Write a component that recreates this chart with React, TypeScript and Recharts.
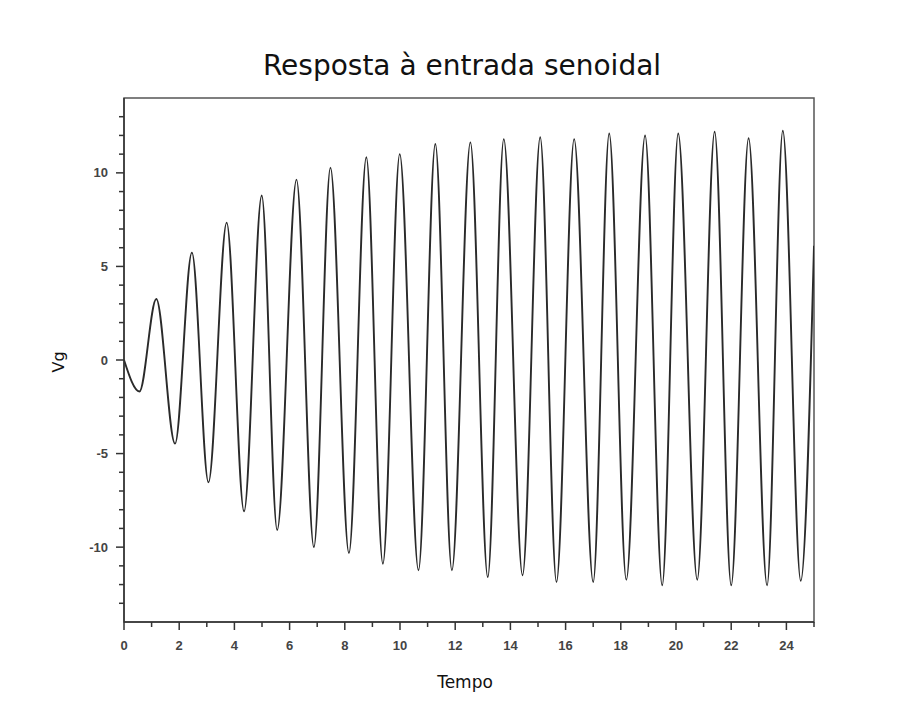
import React from 'react';
import { LineChart, Line, XAxis, YAxis, ReferenceArea } from 'recharts';

// Time instants (extremes) and Vg values
const tempo = [
  0, 0.56, 1.17, 1.85, 2.46, 3.06, 3.72, 4.35, 4.99, 5.55, 6.25, 6.88, 7.48, 8.15,
  8.78, 9.38, 9.99, 10.67, 11.28, 11.88, 12.55, 13.18, 13.76, 14.44, 15.08, 15.67,
  16.31, 17.0, 17.58, 18.2, 18.88, 19.5, 20.08, 20.77, 21.4, 22.0, 22.63, 23.3,
  23.87, 24.52, 25,
];
const vg = [
  0, -1.68, 3.26, -4.47, 5.74, -6.54, 7.34, -8.09, 8.79, -9.08, 9.64, -10.0, 10.27,
  -10.32, 10.83, -10.89, 11.0, -11.24, 11.54, -11.24, 11.63, -11.6, 11.8, -11.5, 11.9,
  -11.86, 11.8, -11.86, 12.1, -11.74, 12.0, -12.04, 12.1, -11.74, 12.2, -12.04, 11.85,
  -12.04, 12.25, -11.8, 6.1,
];

const xTicks = [0, 1, 2, 3, 4, 5, 6, 7, 8, 9, 10, 11, 12, 13, 14, 15, 16, 17, 18, 19, 20, 21, 22, 23, 24, 25];
const yTicks = [-13, -12, -11, -10, -9, -8, -7, -6, -5, -4, -3, -2, -1, 0, 1, 2, 3, 4, 5, 6, 7, 8, 9, 10, 11, 12, 13];

const title = 'Resposta à entrada senoidal';
const xLabel = 'Tempo';
const yLabel = 'Vg';

const data = tempo.map((t, i) => ({ t, v: vg[i] }));

const tickFont = '"Liberation Sans", Arial, sans-serif';
const textFont = '"DejaVu Sans", sans-serif';

const XTick = (props: any) => {
  const { x, y, payload } = props;
  const val = payload.value as number;
  const major = val % 2 === 0 && val < 25;
  return (
    <g>
      <line x1={x} y1={y} x2={x} y2={y + (major ? 8 : 5)} stroke="#333" strokeWidth={1.5} />
      {major && (
        <text x={x} y={y + 28} textAnchor="middle" fontFamily={tickFont} fontSize={13} fontWeight="bold" fill="#444">
          {val}
        </text>
      )}
    </g>
  );
};

const YTick = (props: any) => {
  const { x, y, payload } = props;
  const val = payload.value as number;
  const major = val % 5 === 0;
  return (
    <g>
      <line x1={x - (major ? 8 : 5)} y1={y} x2={x} y2={y} stroke="#333" strokeWidth={1.5} />
      {major && (
        <text x={x - 16} y={y + 4.5} textAnchor="end" fontFamily={tickFont} fontSize={13} fontWeight="bold" fill="#444">
          {val}
        </text>
      )}
    </g>
  );
};

export default function App() {
  return (
    <div style={{ position: 'absolute', left: 0, top: 0, width: 917, height: 705, background: '#fff' }}>
      <LineChart width={917} height={705} data={data} margin={{ top: 98, right: 103, bottom: 0, left: 0 }}>
        <XAxis
          dataKey="t"
          type="number"
          domain={[0, 25]}
          ticks={xTicks}
          interval={0}
          allowDataOverflow
          height={83}
          tickSize={0}
          tickMargin={0}
          tickLine={false}
          tick={(p: any) => <XTick {...p} />}
          axisLine={{ stroke: '#333', strokeWidth: 1.5 }}
        />
        <YAxis
          type="number"
          domain={[-14, 14]}
          ticks={yTicks}
          interval={0}
          allowDataOverflow
          width={124}
          tickSize={0}
          tickMargin={0}
          tickLine={false}
          tick={(p: any) => <YTick {...p} />}
          axisLine={{ stroke: '#333', strokeWidth: 1.5 }}
        />
        <ReferenceArea x1={0} x2={25} y1={-14} y2={14} fill="none" stroke="#555" strokeWidth={1.5} ifOverflow="visible" />
        <Line
          type="monotone"
          dataKey="v"
          stroke="#2a2a2a"
          strokeWidth={1.9}
          dot={false}
          isAnimationActive={false}
        />
        <text x={462} y={75} textAnchor="middle" fontFamily={textFont} fontSize={28} fill="#111">
          {title}
        </text>
        <text x={465} y={688} textAnchor="middle" fontFamily={textFont} fontSize={17} fill="#111">
          {xLabel}
        </text>
        <text
          x={64}
          y={362}
          textAnchor="middle"
          fontFamily={textFont}
          fontSize={16}
          fill="#111"
          transform="rotate(-90 64 362)"
        >
          {yLabel}
        </text>
      </LineChart>
    </div>
  );
}
